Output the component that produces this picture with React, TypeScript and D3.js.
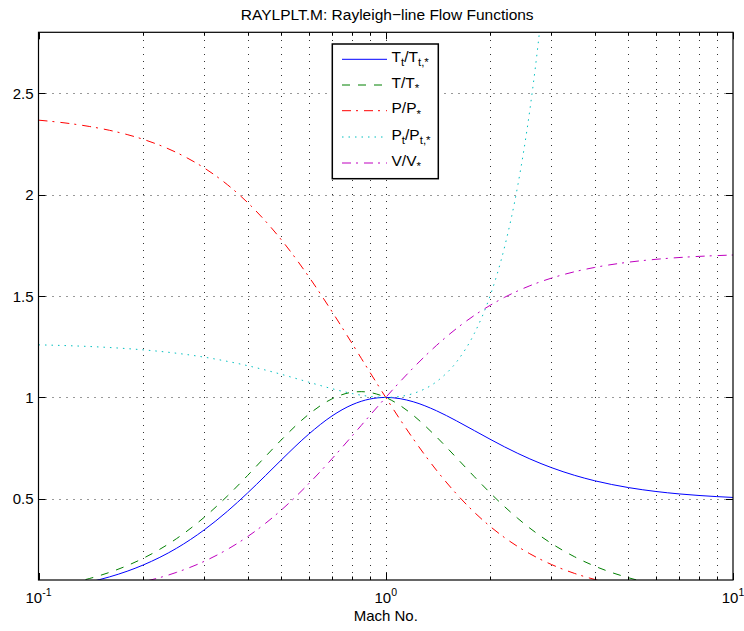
import React from 'react';
import * as d3 from 'd3';

// Mach numbers at which the curves were read
const mach = [0.1, 0.12, 0.14, 0.16, 0.18, 0.2, 0.25, 0.3, 0.35, 0.4, 0.45, 0.5, 0.6, 0.7, 0.8, 0.85, 0.9, 1, 1.1, 1.2, 1.4, 1.6, 1.8, 2, 2.2, 2.4, 2.6, 2.8, 3, 3.5, 4, 5, 6, 7, 8, 10];

// Tt/Tt*
const ttRatio = [0.0468, 0.0666, 0.0895, 0.1151, 0.1432, 0.1736, 0.2568, 0.3469, 0.4389, 0.5290, 0.6139, 0.6914, 0.8189, 0.9085, 0.9640, 0.9810, 0.9921, 1, 0.9939, 0.9787, 0.9343, 0.8842, 0.8363, 0.7934, 0.7561, 0.7242, 0.6970, 0.6738, 0.6540, 0.6158, 0.5891, 0.5556, 0.5363, 0.5244, 0.5165, 0.5070];
// T/T*
const tRatio = [0.0560, 0.0797, 0.1070, 0.1374, 0.1708, 0.2066, 0.3044, 0.4089, 0.5141, 0.6151, 0.7080, 0.7901, 0.9167, 0.9929, 1.0255, 1.0285, 1.0245, 1, 0.9603, 0.9118, 0.8054, 0.7017, 0.6090, 0.5289, 0.4611, 0.4038, 0.3556, 0.3149, 0.2803, 0.2142, 0.1683, 0.1111, 0.0785, 0.0583, 0.0449, 0.0290];
// P/P*
const pRatio = [2.3669, 2.3526, 2.3359, 2.3170, 2.2959, 2.2727, 2.2069, 2.1314, 2.0487, 1.9608, 1.8699, 1.7778, 1.5957, 1.4235, 1.2658, 1.1931, 1.1246, 1, 0.8909, 0.7958, 0.6410, 0.5236, 0.4335, 0.3636, 0.3086, 0.2648, 0.2294, 0.2004, 0.1765, 0.1322, 0.1026, 0.0667, 0.0467, 0.0345, 0.0265, 0.0170];
// Pt/Pt*
const ptRatio = [1.2592, 1.2555, 1.2511, 1.2461, 1.2406, 1.2346, 1.2178, 1.1986, 1.1778, 1.1566, 1.1351, 1.1141, 1.0753, 1.0431, 1.0193, 1.0109, 1.0049, 1, 1.0049, 1.0194, 1.0777, 1.1756, 1.3160, 1.5031, 1.7435, 2.0449, 2.4177, 2.8731, 3.4244, 5.3280, null, null, null, null, null, null];
// V/V*
const vRatio = [0.0237, 0.0339, 0.0458, 0.0593, 0.0744, 0.0909, 0.1379, 0.1918, 0.2510, 0.3137, 0.3787, 0.4444, 0.5745, 0.6975, 0.8101, 0.8620, 0.9110, 1, 1.0780, 1.1459, 1.2564, 1.3403, 1.4046, 1.4545, 1.4938, 1.5252, 1.5505, 1.5711, 1.5882, 1.6198, 1.6410, 1.6667, 1.6809, 1.6897, 1.6954, 1.7021];

const yTicks = [0.5, 1, 1.5, 2, 2.5];
const xDecades = [0.1, 1, 10];
const xExponents = ['-1', '0', '1'];

const title = 'RAYLPLT.M: Rayleigh\u2212line Flow Functions';
const xLabel = 'Mach No.';

type Part = { t: string; sub?: boolean };
const legendLabels: Part[][] = [
  [{ t: 'T' }, { t: 't', sub: true }, { t: '/T' }, { t: 't,*', sub: true }],
  [{ t: 'T/T' }, { t: '*', sub: true }],
  [{ t: 'P/P' }, { t: '*', sub: true }],
  [{ t: 'P' }, { t: 't', sub: true }, { t: '/P' }, { t: 't,*', sub: true }],
  [{ t: 'V/V' }, { t: '*', sub: true }],
];

const seriesValues = [ttRatio, tRatio, pRatio, ptRatio, vRatio];
const seriesColors = ['#0000ff', '#008000', '#ff0000', '#00bfbf', '#bf00bf'];
const seriesDash = ['none', '8 8', '9 5 2 6', '1.5 5', '9 5 2 6'];

const FONT = '"Liberation Sans", Arial, Helvetica, sans-serif';

export default function App() {
  const W = 744, H = 631;
  const L = 38.5, R = 733, T = 32.3, B = 580;
  const x = d3.scaleLog().domain([0.1, 10]).range([L, R]);
  const y = d3.scaleLinear().domain([0.1, 2.8]).range([B, T]);

  const xTicks = x.ticks();
  const isMajor = (v: number) => xDecades.some(d => Math.abs(d - v) < 1e-9);

  const line = d3.line<[number, number | null]>()
    .defined(d => d[1] !== null)
    .x(d => x(d[0]))
    .y(d => y(d[1] as number))
    .curve(d3.curveMonotoneX);

  const legX = 332.3, legY = 44, legW = 106, legH = 134.7;
  const entryY = [59.3, 85, 110.7, 137, 163];

  return (
    <svg width={W} height={H} style={{ position: 'absolute', left: 0, top: 0, display: 'block', background: '#fff' }} fontFamily={FONT}>
      <rect x={0} y={0} width={W} height={H} fill="#fff" />
      <defs>
        <clipPath id="plotclip">
          <rect x={L} y={T} width={R - L} height={B - T} />
        </clipPath>
      </defs>
      {/* grid */}
      <g stroke="#333" strokeWidth={1} strokeDasharray="1 6" fill="none">
        {xTicks.filter(v => v > 0.1 + 1e-9 && v < 10 - 1e-9).map((v, i) => (
          <line key={'gx' + i} x1={Math.round(x(v)) + 0.5} x2={Math.round(x(v)) + 0.5} y1={B} y2={T} />
        ))}
        {yTicks.map((v, i) => (
          <line key={'gy' + i} x1={L} x2={R} y1={Math.round(y(v)) + 0.5} y2={Math.round(y(v)) + 0.5} />
        ))}
      </g>
      {/* curves */}
      <g clipPath="url(#plotclip)" fill="none">
        {seriesValues.map((vals, i) => (
          <path
            key={'s' + i}
            d={line(mach.map((m, j) => [m, vals[j]] as [number, number | null])) || ''}
            stroke={seriesColors[i]}
            strokeWidth={1}
            strokeDasharray={seriesDash[i]}
          />
        ))}
      </g>
      {/* ticks */}
      <g stroke="#000" strokeWidth={1}>
        {xTicks.map((v, i) => {
          const len = isMajor(v) ? 7 : 3.5;
          const px = Math.round(x(v)) + 0.5;
          return (
            <g key={'tx' + i}>
              <line x1={px} x2={px} y1={B} y2={B - len} />
              <line x1={px} x2={px} y1={T} y2={T + len} />
            </g>
          );
        })}
        {yTicks.map((v, i) => {
          const py = Math.round(y(v)) + 0.5;
          return (
            <g key={'ty' + i}>
              <line x1={L} x2={L + 7} y1={py} y2={py} />
              <line x1={R} x2={R - 7} y1={py} y2={py} />
            </g>
          );
        })}
      </g>
      {/* axes box */}
      <rect x={L} y={T} width={R - L} height={B - T} fill="none" stroke="#000" strokeWidth={1.2} />
      {/* y tick labels */}
      <g fontSize={15} fill="#000" textAnchor="end">
        {yTicks.map((v, i) => (
          <text key={'yl' + i} x={33.5} y={y(v) + 5.5}>{String(v)}</text>
        ))}
      </g>
      {/* x tick labels */}
      <g fill="#000" textAnchor="middle">
        {xDecades.map((v, i) => (
          <text key={'xl' + i} x={x(v)} y={603} fontSize={15}>
            <tspan>10</tspan>
            <tspan fontSize={10.5} dy={-7}>{xExponents[i]}</tspan>
          </text>
        ))}
      </g>
      {/* axis label */}
      <text x={(L + R) / 2} y={621} fontSize={15} textAnchor="middle" fill="#000">{xLabel}</text>
      {/* title */}
      <text x={(L + R) / 2 + 1.5} y={20} fontSize={15.5} textAnchor="middle" fill="#000">{title}</text>
      {/* legend */}
      <g>
        <rect x={legX} y={legY} width={legW} height={legH} fill="#fff" stroke="#000" strokeWidth={1.5} />
        {legendLabels.map((parts, i) => (
          <g key={'lg' + i}>
            <line x1={342} x2={387} y1={entryY[i]} y2={entryY[i]} stroke={seriesColors[i]} strokeWidth={1} strokeDasharray={seriesDash[i]} />
            <text x={391.5} y={entryY[i] + 2.5} fontSize={15.5} fill="#000">
              {parts.map((p, k) => {
                const prevSub = k > 0 && parts[k - 1].sub;
                const dy = p.sub ? 4.5 : prevSub ? -4.5 : 0;
                return (
                  <tspan key={k} fontSize={p.sub ? 11.5 : 15.5} dy={dy}>{p.t}</tspan>
                );
              })}
            </text>
          </g>
        ))}
      </g>
    </svg>
  );
}
